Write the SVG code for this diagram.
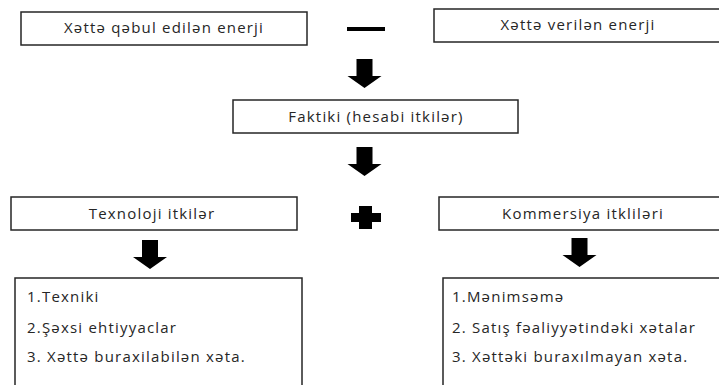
<svg xmlns="http://www.w3.org/2000/svg" width="719" height="385" viewBox="0 0 719 385">
<style>
.box{fill:#fff;stroke:#262626;stroke-width:1.5}
.t{font-family:"Open Sans","Noto Sans","DejaVu Sans",sans-serif;font-size:15px;letter-spacing:1.2px;fill:#262626}
.c{text-anchor:middle}
.sym{fill:#000}
</style>
<defs>
<path id="arr" d="M-8,0 H8 V17 H17 L0,29 L-17,17 H-8 Z"/>
</defs>
<rect width="719" height="385" fill="#fff"/>
<g id="n1"><rect class="box" x="21" y="12" width="286" height="33"/><text class="t c" x="164" y="33">Xəttə qəbul edilən enerji</text></g>
<g id="n2"><rect class="box" x="434" y="9" width="300" height="33"/><text class="t c" x="578" y="30">Xəttə verilən enerji</text></g>
<g id="n3"><rect class="box" x="233" y="100" width="285" height="33"/><text class="t c" x="376" y="122">Faktiki (hesabi itkilər)</text></g>
<g id="n4"><rect class="box" x="11" y="197" width="286" height="33"/><text class="t c" x="152" y="219">Texnoloji itkilər</text></g>
<g id="n5"><rect class="box" x="439" y="197" width="300" height="33"/><text class="t c" x="583" y="219">Kommersiya itklilәri</text></g>
<g id="n6"><rect class="box" x="15" y="278" width="287" height="120"/>
<text class="t" x="27" y="302">1.Texniki</text>
<text class="t" x="27" y="333">2.Şəxsi ehtiyyaclar</text>
<text class="t" x="27" y="362">3. Xəttə buraxilabilən xəta.</text></g>
<g id="n7"><rect class="box" x="443" y="278" width="300" height="120"/>
<text class="t" x="452" y="302">1.Mənimsəmə</text>
<text class="t" x="452" y="333">2. Satış fəaliyyətindəki xətalar</text>
<text class="t" x="452" y="362">3. Xəttəki buraxılmayan xəta.</text></g>
<g id="connectors">
<rect class="sym" x="347" y="27" width="38" height="4"/>
<use href="#arr" class="sym" x="364.5" y="59"/>
<use href="#arr" class="sym" x="364.5" y="147"/>
<path class="sym" d="M359,206 H372 V213 H381 V222 H372 V229 H359 V222 H351 V213 H359 Z"/>
<use href="#arr" class="sym" x="150" y="240"/>
<use href="#arr" class="sym" x="579.5" y="238"/>
</g>
</svg>
